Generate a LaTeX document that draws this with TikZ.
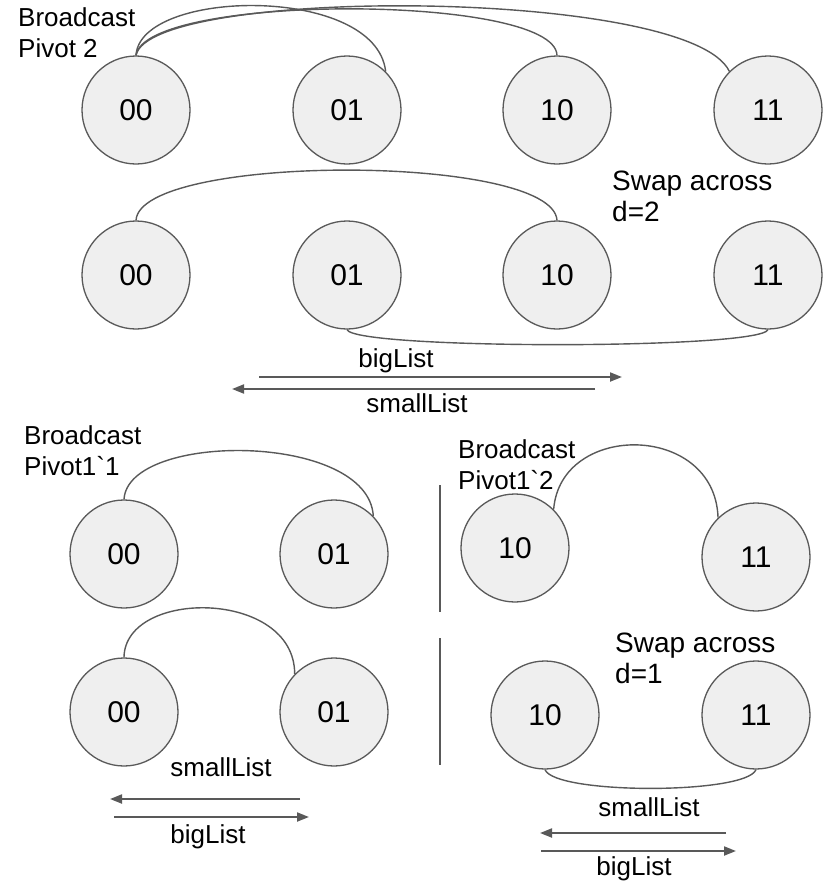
\documentclass[tikz,border=0pt]{standalone}
\usepackage{fontspec}
\setmainfont{Liberation Sans}[Ligatures=TeXOff]
\usetikzlibrary{arrows.meta}
\definecolor{edge}{HTML}{595959}
\definecolor{disc}{HTML}{EFEFEF}
\begin{document}
\begin{tikzpicture}[x=1pt,y=-1pt,
  proc/.style={circle,draw=edge,fill=disc,line width=1.3pt,minimum size=108pt,
    inner sep=0pt,font=\fontsize{30}{36}\selectfont},
  lbl/.style={inner sep=0pt,font=\fontsize{26}{31}\selectfont,align=left},
  swaplbl/.style={lbl,font=\fontsize{28}{31}\selectfont},
  link/.style={draw=edge,line width=1.4pt},
  flow/.style={draw=edge,line width=2pt,-{Triangle[length=12pt,width=9pt]}},
  divider/.style={draw=edge,line width=2pt}]
\useasboundingbox (0,0) rectangle (825,881);

% --- d = 2 : broadcast of pivot 2
\node[proc] (a00) at (136,110) {00};
\node[proc] (a01) at (347,110) {01};
\node[proc] (a10) at (557,110) {10};
\node[proc] (a11) at (768,110) {11};
% anchor "base" of a two-line label sits on its last line
\node[lbl,anchor=base west] (bc2) at (18,57) {Broadcast\\Pivot 2};
\draw[link] (a00.90) .. controls +(4,-67) and +(-10,-87) .. (a01.45);
\draw[link] (a00.90) .. controls +(9,-62) and +(-2,-62) .. (a10.90);
\draw[link] (a00.90) .. controls +(14,-69) and +(-40,-84) .. (a11.135);

% --- d = 2 : swap
\node[proc] (b00) at (136,275) {00};
\node[proc] (b01) at (347,275) {01};
\node[proc] (b10) at (557,275) {10};
\node[proc] (b11) at (768,275) {11};
\node[swaplbl,anchor=base west] (sw2) at (612,221) {Swap across\\d=2};
\draw[link] (b00.90) .. controls +(4,-67) and +(-4,-67) .. (b10.90);
\draw[link] (b01.270) .. controls +(8,20) and +(-8,20) .. (b11.270);

\coordinate (big2s) at (259,377);
\coordinate (big2e) at (622,377);
\coordinate (small2s) at (595,389);
\coordinate (small2e) at (232,389);
\draw[flow] (big2s) -- (big2e);
\draw[flow] (small2s) -- (small2e);
\node[lbl,anchor=base] (big2) at (396,367) {bigList};
\node[lbl,anchor=base] (small2) at (417,412) {smallList};

% --- d = 1 : broadcasts
\node[proc] (c00) at (124,554) {00};
\node[proc] (c01) at (334,554) {01};
\node[proc] (c10) at (515,548) {10};
\node[proc] (c11) at (756,557) {11};
\node[lbl,anchor=base west] (bc11) at (24,475) {Broadcast\\Pivot1`1};
\node[lbl,anchor=base west] (bc12) at (458,489) {Broadcast\\Pivot1`2};
\draw[link] (c00.90) .. controls +(4,-68) and +(-5,-84) .. (c01.44);
\draw[link] (c10.45) .. controls +(7,-88) and +(-3,-95) .. (c11.134);

% --- d = 1 : swaps
\node[proc] (d00) at (124,712) {00};
\node[proc] (d01) at (334,712) {01};
\node[proc] (d10) at (545,715) {10};
\node[proc] (d11) at (756,715) {11};
\node[swaplbl,anchor=base west] (sw1) at (615,683) {Swap across\\d=1};
\draw[link] (d00.90) .. controls +(1,-69) and +(0,-85) .. (d01.136);
\draw[link] (d10.270) .. controls +(10,25) and +(-10,25) .. (d11.270);

\coordinate (small1ls) at (300,799);
\coordinate (small1le) at (110,799);
\coordinate (big1ls) at (114,817);
\coordinate (big1le) at (309,817);
\draw[flow] (small1ls) -- (small1le);
\draw[flow] (big1ls) -- (big1le);
\node[lbl,anchor=base] (small1l) at (221,776) {smallList};
\node[lbl,anchor=base] (big1l) at (208,843) {bigList};

\coordinate (small1rs) at (726,833);
\coordinate (small1re) at (540,833);
\coordinate (big1rs) at (541,851);
\coordinate (big1re) at (736,851);
\draw[flow] (small1rs) -- (small1re);
\draw[flow] (big1rs) -- (big1re);
\node[lbl,anchor=base] (small1r) at (649,816) {smallList};
\node[lbl,anchor=base] (big1r) at (634,875) {bigList};

% --- dividers between the two halves
\coordinate (div1a) at (440,485);
\coordinate (div1b) at (440,612);
\coordinate (div2a) at (440,638);
\coordinate (div2b) at (440,765);
\draw[divider] (div1a) -- (div1b);
\draw[divider] (div2a) -- (div2b);
\end{tikzpicture}
\end{document}
